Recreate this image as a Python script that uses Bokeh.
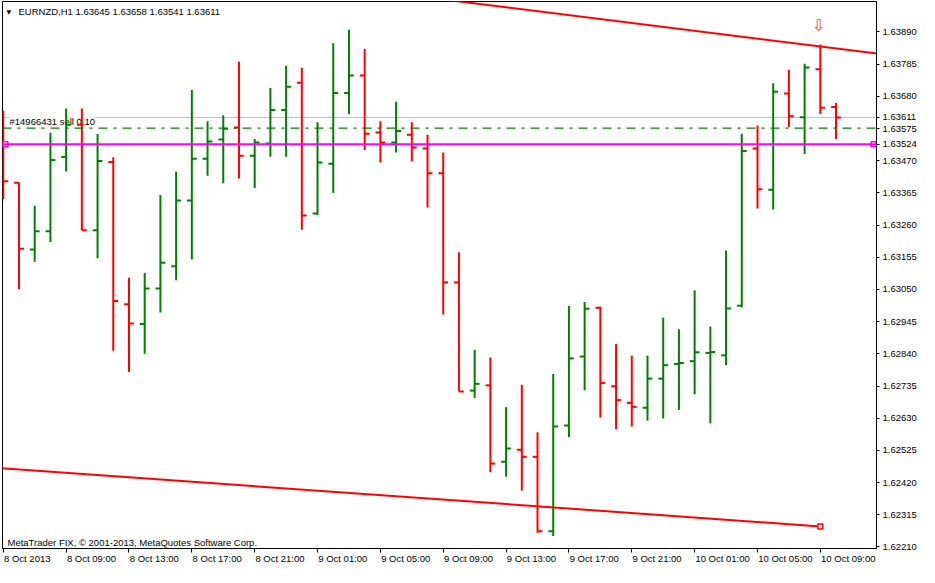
from bokeh.plotting import figure
from bokeh.models import (Range1d, FixedTicker, PrintfTickFormatter, CustomJSTickFormatter,
                          Span, Label, ColumnDataSource, LinearAxis)
from bokeh.embed import file_html
from bokeh.resources import INLINE

# ---------------- data ----------------
symbol = "EURNZD,H1"
bar_index = list(range(54))
opens = [1.63520, 1.63398, 1.63180, 1.63240, 1.63482, 1.63587, 1.63243, 1.63466, 1.63002, 1.62937,
         1.63053, 1.63126, 1.63340, 1.63476, 1.63539, 1.63578, 1.63486, 1.63526, 1.63635, 1.63724,
         1.63298, 1.63460, 1.63691, 1.63748, 1.63562, 1.63529, 1.63555, 1.63510, 1.63429, 1.63073,
         1.62720, 1.62737, 1.62488, 1.62527, 1.62504, 1.62261, 1.62606, 1.62831, 1.62990, 1.62734,
         1.62680, 1.62664, 1.62759, 1.62807, 1.62816, 1.62843, 1.62835, 1.62997, 1.63510, 1.63375,
         1.63689, 1.63612, 1.63768, 1.63645]
highs = [1.63633, 1.63398, 1.63323, 1.63561, 1.63640, 1.63640, 1.63557, 1.63481, 1.63088, 1.63104,
         1.63358, 1.63434, 1.63701, 1.63599, 1.63618, 1.63793, 1.63541, 1.63707, 1.63780, 1.63773,
         1.63595, 1.63853, 1.63897, 1.63834, 1.63599, 1.63662, 1.63595, 1.63555, 1.63497, 1.63171,
         1.62853, 1.62828, 1.62666, 1.62739, 1.62584, 1.62774, 1.62996, 1.63009, 1.62994, 1.62872,
         1.62834, 1.62834, 1.62958, 1.62920, 1.63047, 1.62929, 1.63177, 1.63558, 1.63585, 1.63723,
         1.63767, 1.63786, 1.63849, 1.63658]
lows = [1.63344, 1.63051, 1.63140, 1.63205, 1.63435, 1.63243, 1.63152, 1.62850, 1.62781, 1.62840,
        1.62975, 1.63080, 1.63148, 1.63421, 1.63396, 1.63412, 1.63381, 1.63483, 1.63483, 1.63245,
        1.63292, 1.63365, 1.63622, 1.63505, 1.63464, 1.63497, 1.63467, 1.63317, 1.62968, 1.62717,
        1.62696, 1.62454, 1.62439, 1.62394, 1.62256, 1.62246, 1.62568, 1.62721, 1.62632, 1.62594,
        1.62603, 1.62622, 1.62629, 1.62657, 1.62708, 1.62613, 1.62803, 1.62991, 1.63314, 1.63311,
        1.63580, 1.63492, 1.63622, 1.63541]
closes = [1.63403, 1.63183, 1.63240, 1.63472, 1.63587, 1.63243, 1.63469, 1.63012, 1.62939, 1.63053,
          1.63137, 1.63340, 1.63476, 1.63533, 1.63574, 1.63486, 1.63529, 1.63635, 1.63711, 1.63291,
          1.63464, 1.63691, 1.63748, 1.63558, 1.63529, 1.63567, 1.63513, 1.63429, 1.63073, 1.62717,
          1.62742, 1.62482, 1.62531, 1.62504, 1.62261, 1.62603, 1.62825, 1.62987, 1.62745, 1.62689,
          1.62667, 1.62759, 1.62803, 1.62810, 1.62845, 1.62846, 1.62988, 1.63502, 1.63377, 1.63695,
          1.63615, 1.63774, 1.63643, 1.63611]

time_ticks = [0, 4, 8, 12, 16, 20, 24, 28, 32, 36, 40, 44, 48, 52]
time_labels = ["8 Oct 2013", "8 Oct 09:00", "8 Oct 13:00", "8 Oct 17:00", "8 Oct 21:00",
               "9 Oct 01:00", "9 Oct 05:00", "9 Oct 09:00", "9 Oct 13:00", "9 Oct 17:00",
               "9 Oct 21:00", "10 Oct 01:00", "10 Oct 05:00", "10 Oct 09:00"]
price_ticks = [1.62210, 1.62315, 1.62420, 1.62525, 1.62630, 1.62735, 1.62840, 1.62945, 1.63050,
               1.63155, 1.63260, 1.63365, 1.63470, 1.63575, 1.63680, 1.63785, 1.63890]

bid_price = 1.63611
order_price = 1.63576
order_text = "#14966431 sell 0.10"
hline_price = 1.63524
hline_anchor_x = [0.14, 55.39]
trend_upper_x = [28, 56]
trend_upper_y = [1.63996, 1.63817]
trend_lower_x = [-1, 52]
trend_lower_y = [1.62470, 1.62277]
sell_arrow_bar = 52
copyright_text = "MetaTrader FIX, \u00a9 2001-2013, MetaQuotes Software Corp."

x_start, x_end = -0.05, 55.575
y_start, y_end = 1.622049, 1.639893

# ---------------- style ----------------
FONT = "Liberation Sans"
FSN = 9.5
FS = f"{FSN}px"
GREEN = "#008000"
RED = "#ff0000"
MAGENTA = "#ff00ff"
TICK = 0.31
W, H = 919, 567
BL, BR, BT, BB = 2, 42, 1, 19

p = figure(width=W, height=H,
           x_range=Range1d(x_start, x_end), y_range=Range1d(y_start, y_end),
           y_axis_location="right", output_backend="svg", toolbar_location=None,
           min_border_left=BL, min_border_right=BR, min_border_top=BT, min_border_bottom=BB,
           background_fill_color="white", border_fill_color="white")
p.outline_line_color = "black"
p.outline_line_width = 1
p.grid.visible = False

# right price axis (regular ticks plus the bid and horizontal-line prices)
p.yaxis.ticker = FixedTicker(ticks=sorted(price_ticks + [bid_price, hline_price]))
p.yaxis.formatter = PrintfTickFormatter(format="%.5f")
p.yaxis.major_label_text_font = FONT
p.yaxis.major_label_text_font_size = FS
p.yaxis.major_label_text_color = "black"
p.yaxis.major_tick_out = 3
p.yaxis.major_tick_in = 0
p.yaxis.minor_tick_out = 0
p.yaxis.minor_tick_in = 0
p.yaxis.minor_tick_line_color = None
p.yaxis.major_label_standoff = 3
p.yaxis.axis_line_color = "black"

# bottom time axis: tick marks at the bars
p.xaxis.ticker = FixedTicker(ticks=time_ticks)
p.xaxis.formatter = CustomJSTickFormatter(code="return ''")
p.xaxis.major_label_text_font_size = "1px"
p.xaxis.major_label_standoff = 0
p.xaxis.major_tick_out = 4
p.xaxis.major_tick_in = 0
p.xaxis.minor_tick_out = 0
p.xaxis.minor_tick_in = 0
p.xaxis.minor_tick_line_color = None
p.xaxis.axis_line_color = "black"

# second time axis carrying the labels, left-aligned at the tick marks
ARIAL_W = {c: 0.556 for c in "0123456789"}
ARIAL_W.update({" ": 0.278, ":": 0.278, "O": 0.778, "c": 0.5, "t": 0.278})
px_per_bar = (W - BL - BR) / (x_end - x_start)
label_ticks = [round(t + sum(ARIAL_W.get(ch, 0.556) for ch in s) * FSN / 2 / px_per_bar + 0.05, 4)
               for t, s in zip(time_ticks, time_labels)]
p.extra_x_ranges = {"lbl": Range1d(x_start, x_end)}
lbl_axis = LinearAxis(x_range_name="lbl", ticker=FixedTicker(ticks=label_ticks),
                      formatter=CustomJSTickFormatter(
                          args=dict(pos=label_ticks, names=time_labels),
                          code="""
const i = pos.findIndex(t => Math.abs(t - tick) < 1e-6);
return i >= 0 ? names[i] : '';
"""),
                      major_tick_line_color=None, minor_tick_line_color=None,
                      major_tick_out=0, major_tick_in=0, minor_tick_out=0, minor_tick_in=0,
                      axis_line_color=None, major_label_standoff=0,
                      major_label_text_font=FONT, major_label_text_font_size=FS,
                      major_label_text_color="black")
p.add_layout(lbl_axis, "below")

# bid line and order label (under the bars)
p.add_layout(Span(location=bid_price, dimension="width", line_color="#c0c0c0",
                  line_width=1, level="underlay"))
p.add_layout(Label(x=x_start, y=order_price, x_offset=7, y_offset=1, text=order_text,
                   text_baseline="bottom", text_align="left", text_color="black",
                   text_font=FONT, text_font_size=FS, background_fill_color="white",
                   level="underlay"))

# OHLC bars
colors = [GREEN if c >= o else RED for o, c in zip(opens, closes)]
src = ColumnDataSource(dict(x=bar_index, o=opens, h=highs, l=lows, c=closes, color=colors,
                            xl=[i - TICK for i in bar_index], xr=[i + TICK for i in bar_index]))
p.segment(x0="x", y0="l", x1="x", y1="h", line_color="color", line_width=2, source=src)
p.segment(x0="xl", y0="o", x1="x", y1="o", line_color="color", line_width=2, source=src)
p.segment(x0="x", y0="c", x1="xr", y1="c", line_color="color", line_width=2, source=src)

# order line and horizontal line
p.add_layout(Span(location=order_price, dimension="width", line_color=GREEN,
                  line_width=1.2, line_dash="9 6 3 6"))
p.add_layout(Span(location=hline_price, dimension="width", line_color=MAGENTA, line_width=2))
p.scatter(x=hline_anchor_x, y=[hline_price] * len(hline_anchor_x), marker="square", size=5,
          line_color=MAGENTA, fill_color="white", line_width=1.5)

# trend lines
p.line(trend_upper_x, trend_upper_y, line_color=RED, line_width=2)
p.line(trend_lower_x, trend_lower_y, line_color=RED, line_width=2)
p.scatter(x=[trend_lower_x[-1]], y=[trend_lower_y[-1]], marker="square", size=5,
          line_color=RED, fill_color="white", line_width=1.5)

# sell arrow
p.add_layout(Label(x=sell_arrow_bar, y=highs[sell_arrow_bar], x_offset=-2, y_offset=19,
                   text="\u21e9", text_align="center", text_baseline="middle",
                   text_color="#ff3c3c", text_font="DejaVu Sans", text_font_size="16px"))

# header
title_text = f"{symbol}  {opens[-1]:.5f} {highs[-1]:.5f} {lows[-1]:.5f} {closes[-1]:.5f}"
p.add_layout(Label(x=x_start, y=y_end, x_offset=4, y_offset=-9.5, text="\u25bc",
                   text_baseline="middle", text_align="left", text_color="black",
                   text_font="DejaVu Sans", text_font_size="6px"))
p.add_layout(Label(x=x_start, y=y_end, x_offset=16, y_offset=-9.5, text=title_text,
                   text_baseline="middle", text_align="left", text_color="black",
                   text_font=FONT, text_font_size=FS))

# copyright
p.add_layout(Label(x=x_start, y=y_start, x_offset=5, y_offset=6.5, text=copyright_text,
                   text_baseline="middle", text_align="left", text_color="black",
                   text_font=FONT, text_font_size=FS))

open("out.html", "w").write(file_html(p, INLINE))
